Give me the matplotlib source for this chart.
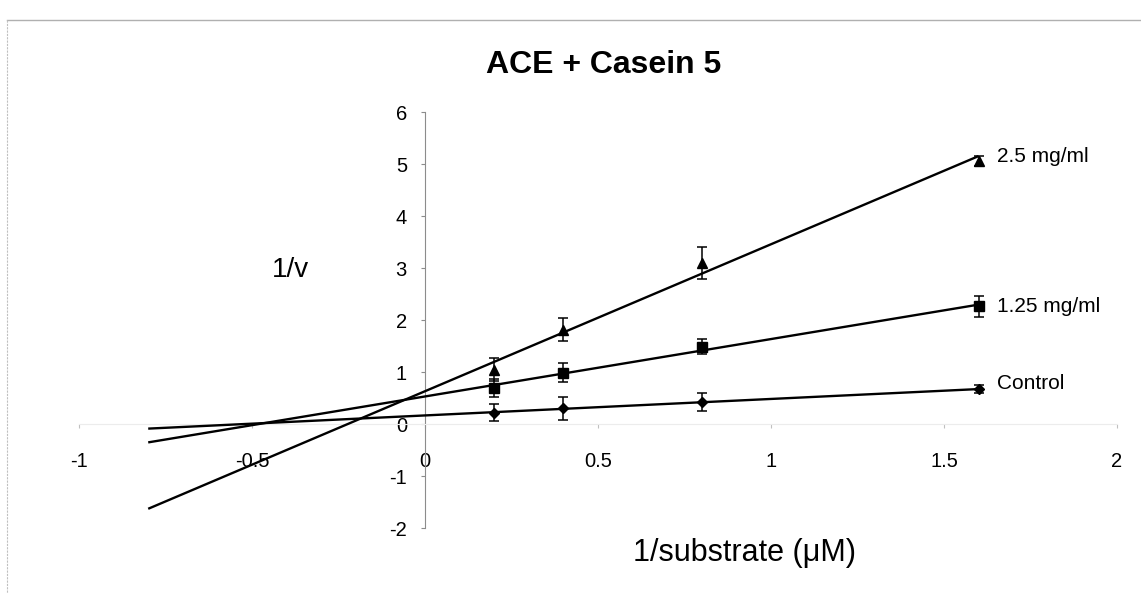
import numpy as np
import matplotlib
matplotlib.use('Agg')
import matplotlib.pyplot as plt
from matplotlib.lines import Line2D

plt.rcParams['font.family'] = ['Liberation Sans', 'DejaVu Sans']
plt.rcParams['axes.unicode_minus'] = False

# Lineweaver-Burk data: 1/[S] vs 1/v, mean +/- error
inv_substrate = [0.2, 0.4, 0.8, 1.6]

control = [0.22, 0.30, 0.42, 0.67]
control_err = [0.17, 0.22, 0.17, 0.08]

casein_125 = [0.69, 0.99, 1.49, 2.26]
casein_125_err = [0.17, 0.19, 0.14, 0.21]

casein_25 = [1.04, 1.81, 3.09, 5.06]
casein_25_err = [0.22, 0.22, 0.31, 0.10]

series_names = ['Control', '1.25 mg/ml', '2.5 mg/ml']
series_markers = ['D', 's', '^']
label_offsets = [(13, 4), (13, 0), (13, 3)]

# linear trendlines are extended back to this range
trend_range = [-0.8, 1.6]

x_ticks = [-1, -0.5, 0, 0.5, 1, 1.5, 2]
x_ticklabels = ['-1', '-0.5', '0', '0.5', '1', '1.5', '2']
y_ticks = [-2, -1, 0, 1, 2, 3, 4, 5, 6]

W, H = 1141, 593
fig = plt.figure(figsize=(W / 100, H / 100), dpi=100)
fig.patch.set_facecolor('white')

ax = fig.add_axes([79 / W, 1 - 528 / H, (1117 - 79) / W, (528 - 112) / H])
ax.set_xlim(-1, 2)
ax.set_ylim(-2, 6)

xs = np.array(inv_substrate)
all_y = [control, casein_125, casein_25]
all_err = [control_err, casein_125_err, casein_25_err]

for name, ys, err, mk, off in zip(series_names, all_y, all_err, series_markers, label_offsets):
    ys = np.array(ys)
    slope, intercept = np.polyfit(xs, ys, 1)
    tx = np.array(trend_range)
    ax.plot(tx, slope * tx + intercept, color='black', lw=1.7, zorder=3, solid_capstyle='butt')
    ax.errorbar(xs, ys, yerr=err, fmt=mk, color='black', ms=6.5 if mk != 'D' else 5,
                ecolor='black', elinewidth=1.1, capsize=3.5, capthick=1.1, zorder=4)
    ax.annotate(name, xy=(xs[-1], ys[-1]), xytext=off, textcoords='offset points',
                ha='left', va='center', fontsize=15)

# axes cross at the origin, Excel style
for side in ['top', 'right']:
    ax.spines[side].set_visible(False)
ax.spines['left'].set_position(('data', 0))
ax.spines['left'].set_color('#8c8c8c')
ax.spines['left'].set_linewidth(0.8)
ax.spines['left'].set_linestyle((0, (3, 1)))
ax.spines['bottom'].set_position(('data', 0))
ax.spines['bottom'].set_color('#ececec')
ax.spines['bottom'].set_linewidth(0.8)

ax.set_xticks(x_ticks)
ax.set_xticklabels(x_ticklabels)
ax.set_yticks(y_ticks)
ax.tick_params(axis='x', direction='out', length=3, width=0.8, color='#c0c0c0',
               pad=17, labelsize=14.5)
ax.tick_params(axis='y', direction='out', length=3, width=0.8, color='#8c8c8c',
               pad=10, labelsize=14.5)
ax.set_facecolor('none')

ax.text(-0.39, 2.96, '1/v', fontsize=20, ha='center', va='center')
ax.text(0.922, -2.48, '1/substrate (\u03bcM)', fontsize=22, ha='center', va='center')

fig.text(604 / W, 1 - 65 / H, 'ACE + Casein 5', fontsize=23, fontweight='bold',
         ha='center', va='center')

# chart area frame
fig.add_artist(Line2D([7 / W, 1.0], [1 - 20 / H, 1 - 20 / H], transform=fig.transFigure,
                      color='#b0b0b0', lw=1.0))
fig.add_artist(Line2D([7 / W, 7 / W], [1 - 20 / H, 0.0], transform=fig.transFigure,
                      color='#c0c0c0', lw=0.8, linestyle=(0, (2, 1))))

fig.savefig('out.png', dpi=100, facecolor='white')
